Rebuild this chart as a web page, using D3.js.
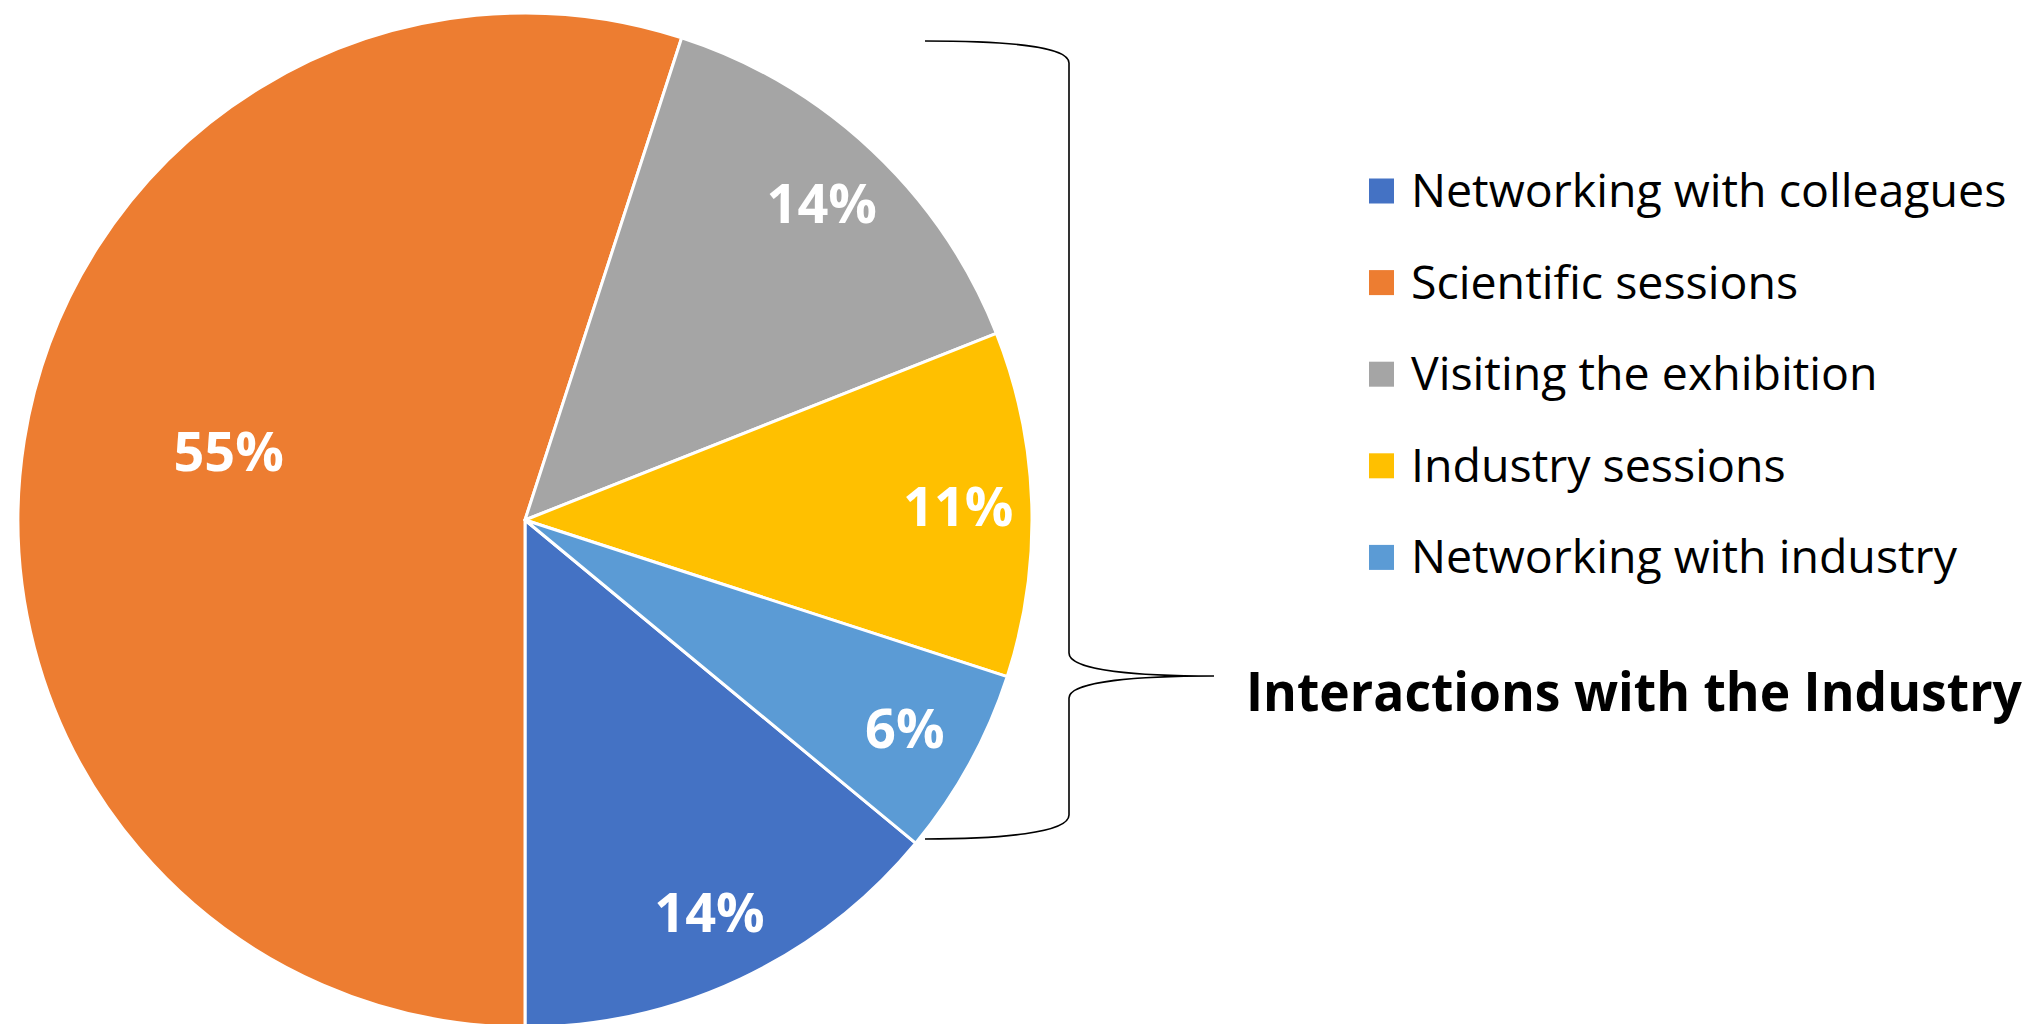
<!DOCTYPE html>
<html>
<head>
<meta charset="utf-8">
<script src="https://cdn.jsdelivr.net/npm/d3@7"></script>
<style>
  html, body { margin: 0; padding: 0; background: #fff; }
  svg { display: block; }
</style>
</head>
<body>
<svg id="chart" width="2039" height="1024"></svg>
<script>
// Share of attendees by main reason for attending (percent)
const categories = [
  "Networking with colleagues",
  "Scientific sessions",
  "Visiting the exhibition",
  "Industry sessions",
  "Networking with industry"
];
const shares = [14, 55, 14, 11, 6];
const colors = ["#4472C4", "#ED7D31", "#A5A5A5", "#FFC000", "#5B9BD5"];
const groupTitle = "Interactions with the Industry";

const svg = d3.select("#chart");
const cx = 525, cy = 520, R = 507;

const data = categories.map((c, i) => ({ name: c, value: shares[i], color: colors[i] }));

const startDeg = 129.6;
const pie = d3.pie()
  .value(d => d.value)
  .sort(null)
  .startAngle(startDeg * Math.PI / 180)
  .endAngle((startDeg + 360) * Math.PI / 180);

const arcs = pie(data);
const arc = d3.arc().innerRadius(0).outerRadius(R);
const outerLabelArc = d3.arc().innerRadius(R * 0.855).outerRadius(R * 0.855);
const innerLabelArc = d3.arc().innerRadius(R * 0.6).outerRadius(R * 0.6);

const g = svg.append("g").attr("transform", `translate(${cx},${cy})`);

g.selectAll("path.slice")
  .data(arcs)
  .join("path")
  .attr("class", "slice")
  .attr("d", arc)
  .attr("fill", d => d.data.color)
  .attr("stroke", "#fff")
  .attr("stroke-width", 3)
  .attr("stroke-linejoin", "round");

// Percentage labels: large slices get their label closer to the centre
g.selectAll("text.pct")
  .data(arcs)
  .join("text")
  .attr("class", "pct")
  .attr("transform", d => {
    let p;
    if (d.data.value > 50) {
      // nudge the big label a little toward the top of the slice
      const shifted = { ...d, startAngle: d.startAngle + 0.07, endAngle: d.endAngle + 0.07 };
      p = innerLabelArc.centroid(shifted);
    } else {
      p = outerLabelArc.centroid(d);
    }
    return `translate(${p[0]},${p[1]})`;
  })
  .attr("text-anchor", "middle")
  .attr("dy", "0.36em")
  .attr("font-family", "'Open Sans', sans-serif")
  .attr("font-weight", 700)
  .attr("font-size", 54)
  .attr("fill", "#fff")
  .text(d => d3.format(".0f")(d.data.value) + "%");

// Legend
const legend = svg.append("g").attr("transform", "translate(1369,191)");
const rowStep = 91.6;
const rows = legend.selectAll("g.row")
  .data(data)
  .join("g")
  .attr("class", "row")
  .attr("transform", (d, i) => `translate(0,${i * rowStep})`);

rows.append("rect")
  .attr("x", 0).attr("y", -12.5)
  .attr("width", 25).attr("height", 25)
  .attr("fill", d => d.color);

rows.append("text")
  .attr("x", 42)
  .attr("y", 16)
  .attr("font-family", "'Open Sans', sans-serif")
  .attr("font-size", 46.5)
  .attr("fill", "#000")
  .text(d => d.name);

// Brace grouping the industry-related slices
const brace = d3.path();
brace.moveTo(925, 41);
brace.bezierCurveTo(1000, 41, 1069, 45, 1069, 63);
brace.lineTo(1069, 653);
brace.bezierCurveTo(1069, 671, 1140, 676, 1214, 676);
brace.bezierCurveTo(1140, 676, 1069, 681, 1069, 698);
brace.lineTo(1069, 815);
brace.bezierCurveTo(1069, 833, 1000, 839, 925, 839);

svg.append("path")
  .attr("d", brace.toString())
  .attr("fill", "none")
  .attr("stroke", "#000")
  .attr("stroke-width", 1.6);

// Group title, condensed horizontally to fit beside the brace
const titleWidth = 776;
const titleG = svg.append("g");
const title = titleG.append("text")
  .attr("x", 0)
  .attr("y", 0)
  .attr("font-family", "'Open Sans', sans-serif")
  .attr("font-weight", 700)
  .attr("font-size", 54)
  .attr("fill", "#000")
  .text(groupTitle);
const natural = title.node().getComputedTextLength();
const sx = Math.min(1, titleWidth / natural);
titleG.attr("transform", `translate(1246,711) scale(${sx},1)`);
</script>
</body>
</html>
